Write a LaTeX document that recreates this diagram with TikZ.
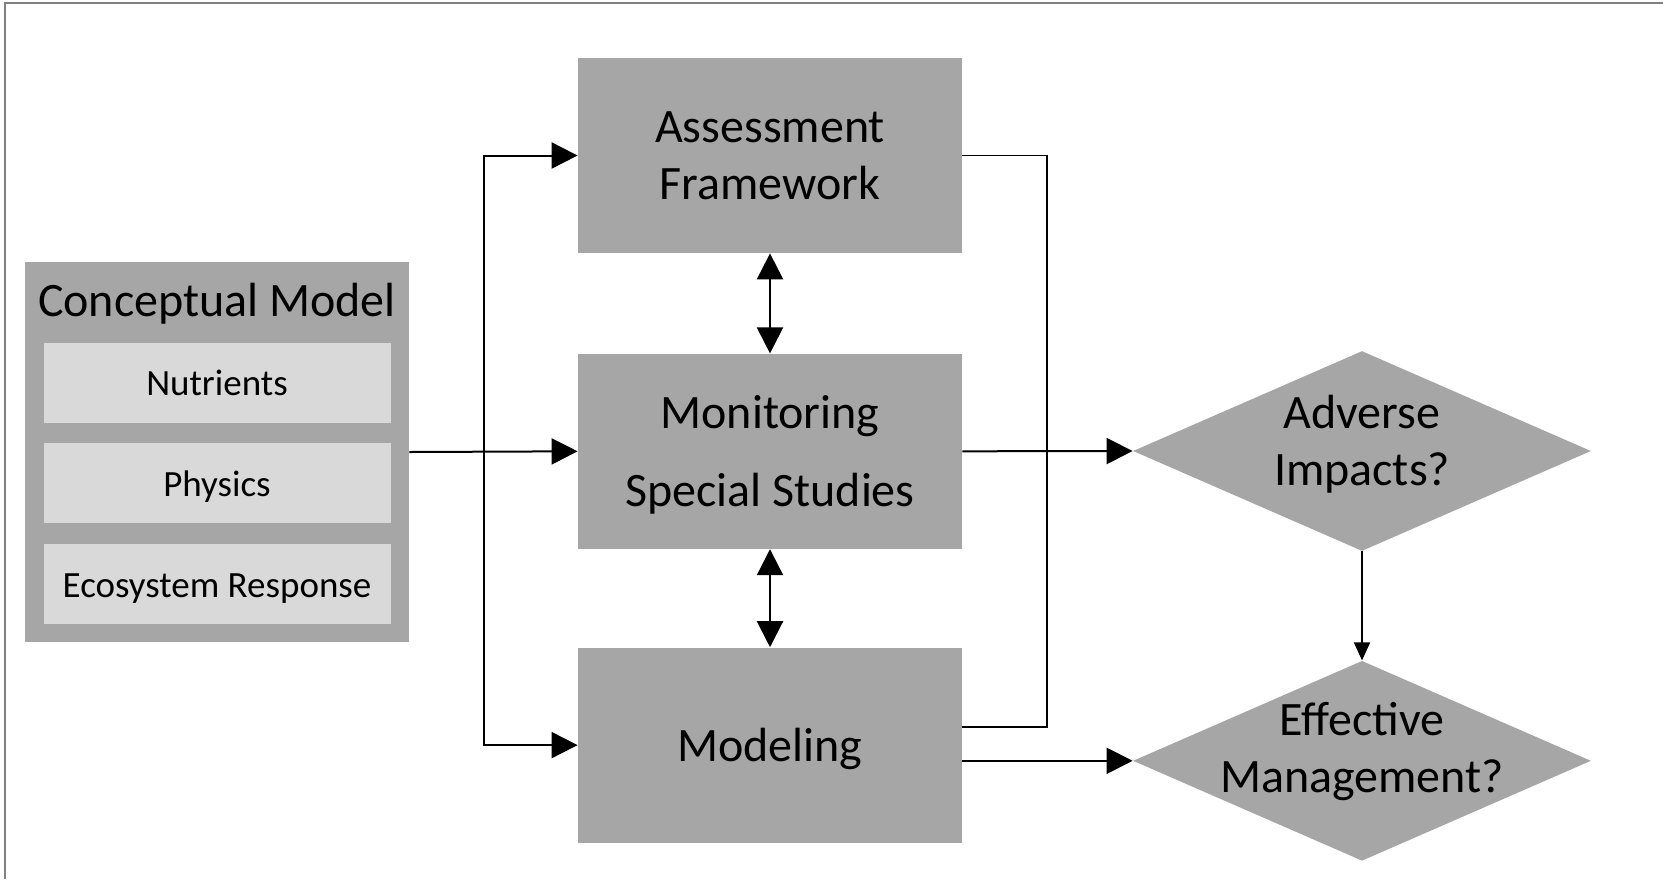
\documentclass[tikz,border=0pt]{standalone}
\usepackage{fontspec}
\setmainfont{Carlito}
\usepackage{tikz}
\usetikzlibrary{positioning, arrows.meta, shapes.geometric}
\definecolor{boxgray}{RGB}{166,166,166}
\definecolor{subgray}{RGB}{217,217,217}
\definecolor{framegray}{RGB}{128,128,128}

\begin{document}
\begin{tikzpicture}[x=0.5pt, y=-0.5pt,
    mainbox/.style={
        rectangle, fill=boxgray, inner sep=0pt,
        minimum width=192pt, minimum height=97.5pt, text depth=0pt,
        align=center, font=\fontsize{24}{28.5}\selectfont},
    group/.style={rectangle, fill=boxgray, inner sep=0pt,
        minimum width=192pt, minimum height=190pt},
    subbox/.style={
        rectangle, fill=subgray, inner sep=0pt,
        minimum width=173.5pt, minimum height=40pt,
        text height=13pt, text depth=0pt,
        font=\fontsize{18.5}{22}\selectfont},
    decision/.style={
        diamond, fill=boxgray, inner sep=0pt,
        minimum width=229pt, minimum height=100pt},
    dtext/.style={align=center, inner sep=0pt,
        font=\fontsize{24}{28.5}\selectfont},
    arr/.style={-{Triangle[length=13pt, width=13pt]}, line width=1pt},
    dblarr/.style={{Triangle[length=13pt, width=13pt]}-{Triangle[length=13pt, width=13pt]},
        line width=1.1pt},
    smallarr/.style={-{Triangle[length=9pt, width=8pt]}, line width=0.8pt},
    link/.style={line width=0.7pt}]
  \useasboundingbox (0,0) rectangle (1663,879);
  % Marco
  \draw[framegray, line width=1pt] (5,879) |- (1663,3);
  % Modelo conceptual
  \node[group] (cm) at (217,452) {};
  \node[font=\fontsize{24}{28.5}\selectfont, inner sep=0pt] (cmtitle) at (217,304) {Conceptual Model};
  \node[subbox] (nut) at (217,382.5) {Nutrients};
  \node[subbox, below=10pt of nut] (phys) {Physics};
  \node[subbox, below=10pt of phys] (eco) {Ecosystem Response};
  % Cajas principales
  \node[mainbox] (assess) at (770,155.5) {Assessment\\ Framework};
  \node[mainbox, below=50pt of assess] (mon) {Monitoring\\[10.5pt] Special Studies};
  \node[mainbox, below=49pt of mon] (model) {Modeling};
  % Decisiones
  \node[decision] (adv) at (1362,451) {};
  \node[decision, below=54.5pt of adv] (eff) {};
  \node[dtext] (advlab) at ([yshift=3.5pt]adv.center) {Adverse\\ Impacts?};
  \node[dtext] (efflab) at ([yshift=4.5pt]eff.center) {Effective\\ Management?};
  % Flechas
  \coordinate (split) at (484,452);
  \coordinate (rail) at (1047,727);
  \draw[arr] (cm.east) -- (mon.west);
  \draw[arr] (split) |- (assess.west);
  \draw[arr] (split) |- (model.west);
  \draw[dblarr] (assess.south) -- (mon.north);
  \draw[dblarr] (mon.south) -- (model.north);
  \draw[link] (assess.east) -| (rail) -- (model.east |- rail);
  \draw[arr] (mon.east) -- (adv.west);
  \draw[arr] (model.east |- eff.west) -- (eff.west);
  \draw[smallarr] (adv.south) -- (eff.north);
\end{tikzpicture}
\end{document}
